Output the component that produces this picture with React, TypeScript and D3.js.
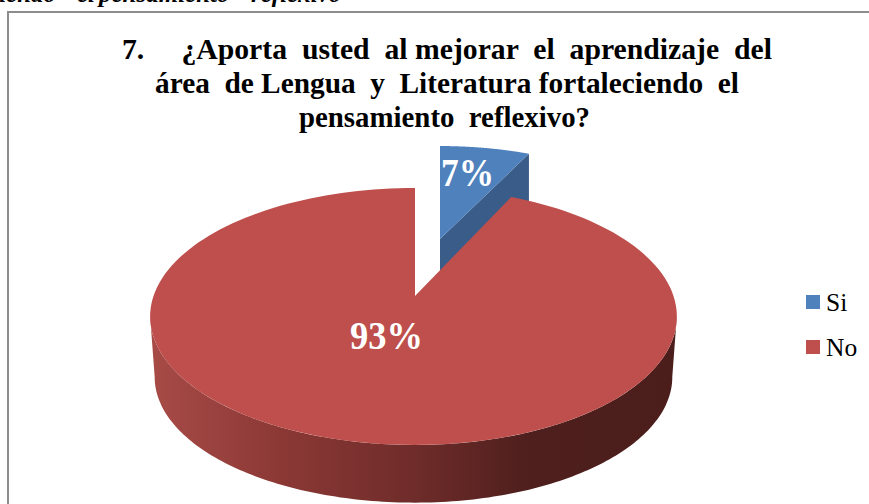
import React from "react";
import * as d3 from "d3";

const categories = ["Si", "No"];
const values = [7, 93];
const valueLabels = ["7%", "93%"];
const faceColors = ["#4f81bd", "#be4f4c"];
const titleLines = [
  "7.     ¿Aporta  usted  al mejorar  el  aprendizaje  del",
  "área  de Lengua  y  Literatura fortaleciendo  el",
  "pensamiento  reflexivo?",
];
const titleSpans = [[122, 650], [155, 584], [299, 291]];
const titleBaselines = [59, 93, 127];
const captionWords = ["leciendo", "el", "pensamiento", "reflexivo"];
const captionStarts = [-30, 77, 99, 251];

const font = "'Liberation Serif','Times New Roman',serif";
const K = 0.1595;
type Proj = { ax: number; ay: number; bx: number; by: number; skew: number };
const project = (p: Proj, t: number): [number, number] => {
  const u = Math.sin(t), v = Math.cos(t), d = 1 + K * v;
  return [p.ax + (p.bx * u - p.skew * Math.abs(u)) / d, p.ay - (p.by * v) / d];
};
const redTop: Proj = { ax: 415, ay: 296, bx: 260, by: 125.2, skew: 1.5 };
const redBottom: Proj = { ax: 415, ay: 357, bx: 255.5, by: 122.4, skew: 1.5 };
const blueTop: Proj = { ax: 440, ay: 239, bx: 239, by: 107.8, skew: 0 };

const arcs = d3.pie<number>().sort(null)(values);
const line = d3.line();
const samples = (a: number, b: number, n = 160) => d3.range(n + 1).map((i) => a + ((b - a) * i) / n);
const sector = (p: Proj, a: number, b: number) =>
  line([[p.ax, p.ay], ...samples(a, b).map((t) => project(p, t))]) + "Z";

const sideFrom = (99 * Math.PI) / 180;
const sideTo = (261 * Math.PI) / 180;
const sidePath =
  line([
    ...samples(sideFrom, sideTo).map((t) => project(redTop, t)),
    ...samples(sideTo, sideFrom).map((t) => project(redBottom, t)),
  ]) + "Z";

const blueEnd = project(blueTop, arcs[0].endAngle);
const wallDepth = 52;
const blueWall =
  line([
    [blueTop.ax, blueTop.ay],
    blueEnd,
    [blueEnd[0], blueEnd[1] + wallDepth],
    [blueTop.ax, blueTop.ay + wallDepth],
  ]) + "Z";

export default function App() {
  return (
    <svg width={869} height={504} style={{ position: "fixed", left: 0, top: 0, background: "#fff" }} fontFamily={font}>
      <defs>
        <linearGradient id="side" gradientUnits="userSpaceOnUse" x1={150} x2={677} y1={0} y2={0}>
          <stop offset="0" stopColor="#a84b47" />
          <stop offset="0.25" stopColor="#8b3835" />
          <stop offset="0.5" stopColor="#6f2c2a" />
          <stop offset="0.72" stopColor="#4e1f1d" />
          <stop offset="1" stopColor="#4b1d1b" />
        </linearGradient>
      </defs>
      {captionWords.map((w, i) => (
        <text key={w} x={captionStarts[i]} y={2} fontSize={25} fontWeight="bold" fontStyle="italic" fill="#000">{w}</text>
      ))}
      <rect x={8} y={12} width={880} height={510} fill="#fff" stroke="#8c8c8c" strokeWidth={2} />
      {titleLines.map((s, i) => (
        <text key={i} x={titleSpans[i][0]} y={titleBaselines[i]} textLength={titleSpans[i][1]} lengthAdjust="spacingAndGlyphs" fontSize={29.5} fontWeight="bold" fill="#000" style={{ whiteSpace: "pre" }}>
          {s}
        </text>
      ))}
      <path d={blueWall} fill="#3a5c89" />
      <path d={sector(blueTop, arcs[0].startAngle, arcs[0].endAngle)} fill={faceColors[0]} />
      <path d={sidePath} fill="url(#side)" />
      <path d={sector(redTop, arcs[1].startAngle, arcs[1].endAngle)} fill={faceColors[1]} />
      <text x={441} y={186} textLength={53} lengthAdjust="spacingAndGlyphs" fontSize={40} fontWeight="bold" fill="#fff">{valueLabels[0]}</text>
      <text x={350} y={349} textLength={73} lengthAdjust="spacingAndGlyphs" fontSize={40} fontWeight="bold" fill="#fff">{valueLabels[1]}</text>
      {categories.map((c, i) => (
        <g key={c}>
          <rect x={806} y={295 + i * 45} width={14} height={14} fill={faceColors[i]} />
          <text x={826} y={310.5 + i * 45} fontSize={25.5} fill="#000">{c}</text>
        </g>
      ))}
    </svg>
  );
}
